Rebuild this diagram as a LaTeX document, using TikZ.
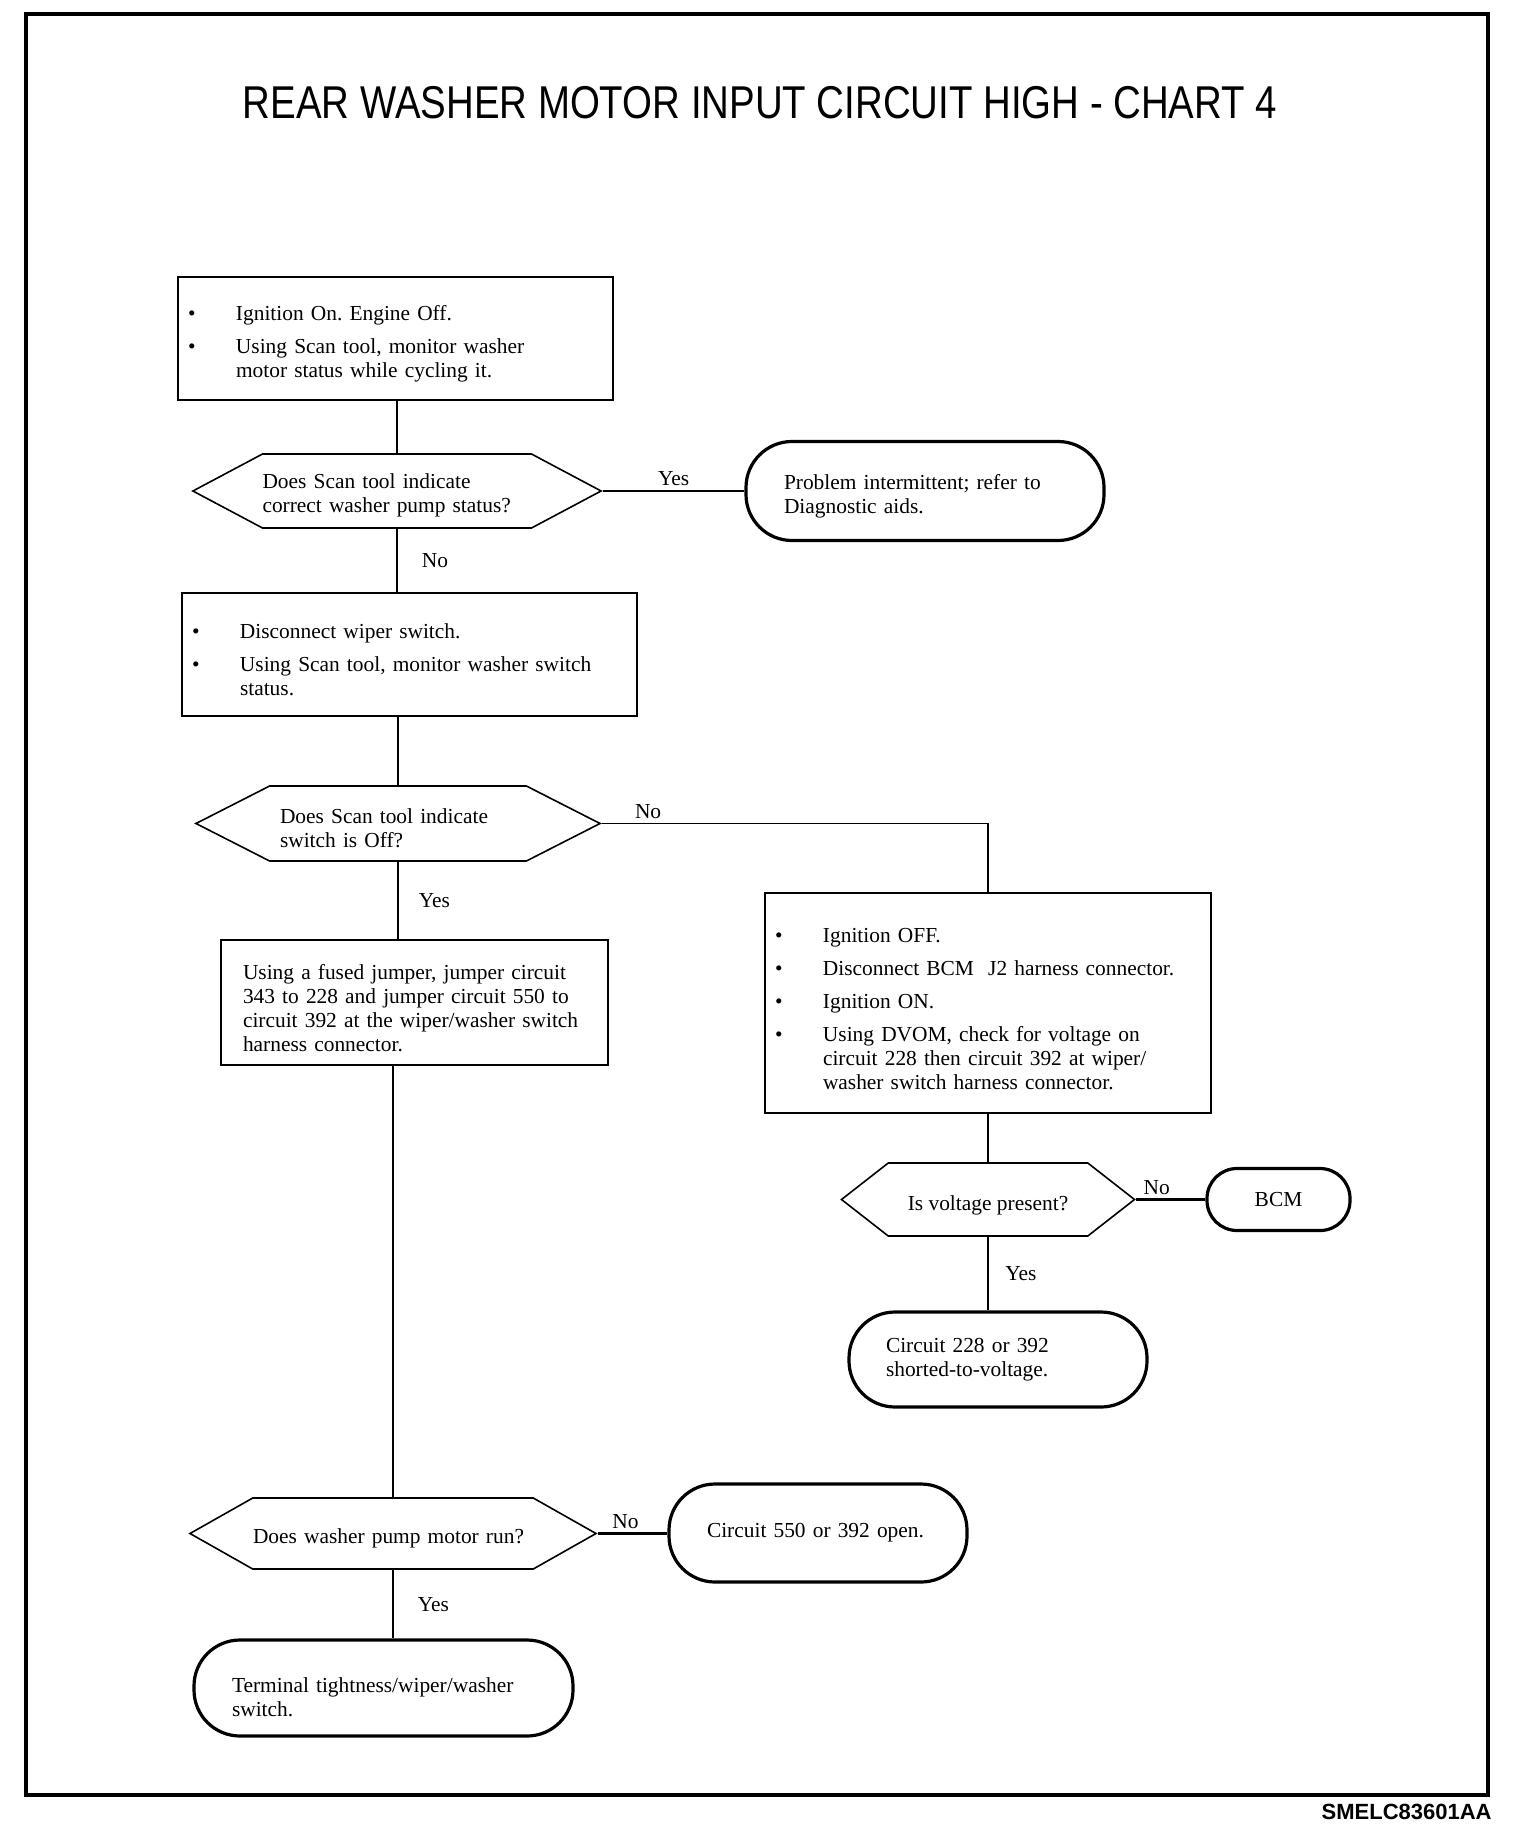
\documentclass[tikz,border=0pt]{standalone}
\usepackage{fontspec}
\setmainfont{Liberation Serif}
\newfontfamily\titlefont[FakeStretch=0.835]{Liberation Sans}
\newfontfamily\codefont{Liberation Sans}
\usetikzlibrary{shapes.symbols}
\newcommand{\bul}{\makebox[24pt][l]{\textbullet}}
\newcommand{\ind}{\hspace*{24pt}}
\newcommand{\lowr}[1]{\rule{0pt}{#1}}
\frenchspacing
\begin{document}
\begin{tikzpicture}[x=0.5pt,y=-0.5pt]
\tikzstyle{txt}=[font=\fontsize{10.7}{12}\selectfont\frenchspacing]
\tikzstyle{actbox}=[txt,draw,line width=1.2pt,align=left,inner ysep=0pt,execute at begin node=\lowr{13pt}]
\tikzstyle{askbox}=[txt,draw,line width=0.8pt,signal,signal to=west and east,inner sep=0pt,align=left,execute at begin node=\lowr{12pt}]
\tikzstyle{endbox}=[txt,draw,line width=1.6pt,rounded corners=23pt,align=left,inner ysep=0pt]
\tikzstyle{line}=[draw,line width=0.8pt]
\tikzstyle{ans}=[txt,inner sep=2pt]
\useasboundingbox(0,0)rectangle(1520,1840);
\draw[line width=2.2pt](26,14)rectangle(1488,1795);
\node[font=\titlefont\fontsize{23}{27}\selectfont,inner sep=0](title)at(760,103){REAR WASHER MOTOR INPUT CIRCUIT HIGH - CHART 4};
\node[font=\codefont\bfseries\fontsize{11}{13}\selectfont,anchor=east,inner sep=0](code)at(1492,1812){SMELC83601AA};
% left column
\node[actbox,inner xsep=5pt,text width=207.5pt,minimum height=61.5pt](b1)at(395.5,338.5){\bul Ignition On. Engine Off.\\[4.5pt]\bul Using Scan tool, monitor washer\\\ind motor status while cycling it.};
\node[askbox,signal pointer angle=56,minimum width=202.5pt,minimum height=37pt,text width=134.5pt](d1)at(397,491){Does Scan tool indicate\\correct washer pump status?};
\node[endbox,inner xsep=19pt,text width=141pt,minimum height=49.5pt,execute at begin node=\lowr{13pt}](t1)at(925,491){Problem intermittent; refer to\\Diagnostic aids.};
\node[actbox,inner xsep=5pt,text width=217.5pt,minimum height=61.5pt](b2)at(409.5,654.5){\bul Disconnect wiper switch.\\[4.5pt]\bul Using Scan tool, monitor washer switch\\\ind status.};
\node[askbox,signal pointer angle=54,minimum width=202pt,minimum height=37.5pt,text width=118pt](d2)at(398,823.5){Does Scan tool indicate\\switch is Off?};
\node[actbox,inner xsep=11pt,text width=171.5pt,minimum height=62.5pt](b3)at(414.5,1002.5){Using a fused jumper, jumper circuit\\343 to 228 and jumper circuit 550 to\\circuit 392 at the wiper/washer switch\\harness connector.};
\node[askbox,signal pointer angle=59,minimum width=203pt,minimum height=35.5pt,text width=140pt,execute at begin node=](d3)at(393,1533.5){Does washer pump motor run?};
\node[endbox,inner xsep=19pt,text width=111pt,minimum height=49pt](t4)at(818,1533){Circuit 550 or 392 open.};
\node[endbox,inner xsep=19pt,text width=151.5pt,minimum height=48pt,execute at begin node=\lowr{17pt}](t5)at(383.5,1688){Terminal tightness/wiper/washer\\switch.};
% right column
\node[actbox,inner xsep=5pt,text width=213pt,minimum height=110pt](b4)at(988,1003){\bul Ignition OFF.\\[4.5pt]\bul Disconnect BCM\ \ J2 harness connector.\\[4.5pt]\bul Ignition ON.\\[4.5pt]\bul Using DVOM, check for voltage on\\\ind circuit 228 then circuit 392 at wiper/\\\ind washer switch harness connector.};
\node[askbox,signal pointer angle=76,minimum width=146.5pt,minimum height=36.5pt,execute at begin node=\lowr{13pt}](d4)at(988,1199.5){Is voltage present?};
\node[endbox,minimum width=71.5pt,minimum height=31pt,rounded corners=15pt,align=center](t2)at(1278.5,1199.5){BCM};
\node[endbox,inner xsep=18.5pt,text width=112pt,minimum height=47.5pt](t3)at(998,1359.5){Circuit 228 or 392\\shorted-to-voltage.};
% connectors
\path[line](b1.south-|d1.north)--(d1.north);
\path[line](d1.east)--node[ans,above]{Yes}(d1.east-|t1.west);
\path[line](d1.south)--node[ans,right=10pt]{No}(d1.south|-b2.north);
\path[line](b2.south-|d2.north)--(d2.north);
\path[line](d2.east)--node[ans,above,pos=.12]{No}(d2.east-|b4.north)--(b4.north);
\path[line](d2.south)--node[ans,right=8pt]{Yes}(d2.south|-b3.north);
\path[line](b4.south)--(d4.north);
\path[line,line width=1.3pt](d4.east)--node[ans,above,pos=.3]{No}(d4.east-|t2.west);
\path[line,line width=1.3pt](d4.south)--node[ans,right=6pt]{Yes}(d4.south|-t3.north);
\path[line](b3.south-|d3.north)--(d3.north);
\path[line,line width=1.1pt](d3.east)--node[ans,above,pos=.4]{No}(d3.east-|t4.west);
\path[line](d3.south)--node[ans,right=10pt]{Yes}(d3.south|-t5.north);
\end{tikzpicture}
\end{document}
